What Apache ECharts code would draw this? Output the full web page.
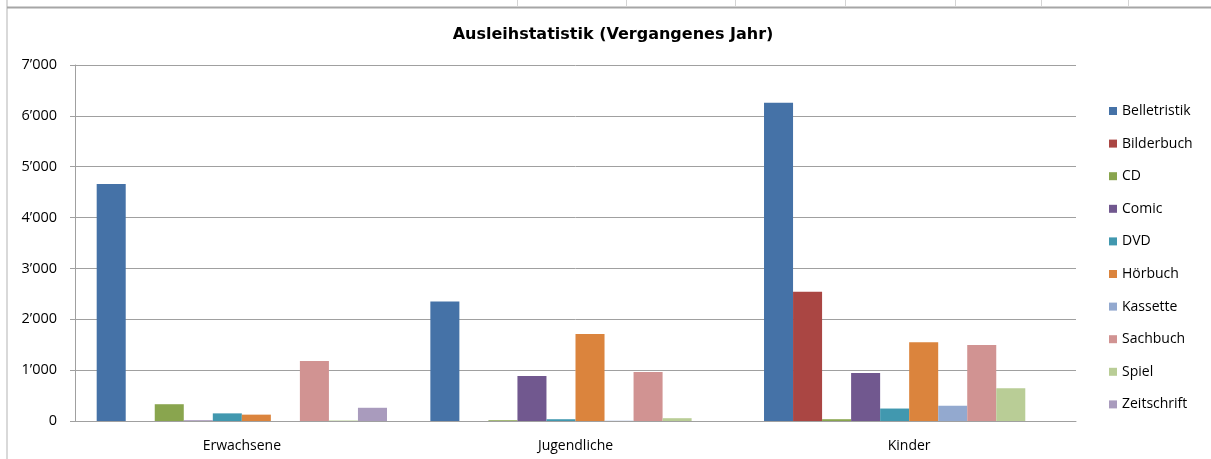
<!DOCTYPE html>
<html>
<head>
<meta charset="utf-8">
<script src="https://cdn.jsdelivr.net/npm/echarts@6/dist/echarts.min.js"></script>
<style>html,body{margin:0;padding:0;background:#fff}#c{width:1211px;height:459px}</style>
</head>
<body>
<div id="c"></div>
<script>
var categories = ['Erwachsene', 'Jugendliche', 'Kinder'];
var seriesNames = ['Belletristik','Bilderbuch','CD','Comic','DVD','Hörbuch','Kassette','Sachbuch','Spiel','Zeitschrift'];
var belletristik = [4660, 2350, 6260];
var bilderbuch   = [0, 0, 2540];
var cd           = [330, 15, 35];
var comic        = [10, 885, 945];
var dvd          = [150, 35, 245];
var hoerbuch     = [125, 1710, 1550];
var kassette     = [0, 5, 300];
var sachbuch     = [1180, 965, 1495];
var spiel        = [10, 55, 645];
var zeitschrift  = [260, 0, 0];
var yTicks = [0, 1000, 2000, 3000, 4000, 5000, 6000, 7000];
var colors = ['#4572A7','#AA4643','#89A54E','#71588F','#4198AF','#DB843D','#93A9CF','#D19392','#B9CD96','#A99BBD'];
var allData = [belletristik, bilderbuch, cd, comic, dvd, hoerbuch, kassette, sachbuch, spiel, zeitschrift];

var font = 'Open Sans';
var chart = echarts.init(document.getElementById('c'));
var series = seriesNames.map(function(n, i){
  return {
    name: n, type: 'bar', data: allData[i],
    barGap: '0%', barCategoryGap: '13%',
    itemStyle: {color: colors[i]}
  };
});
function fmt(v){
  var s = String(v);
  if (v >= 1000) s = s.slice(0, s.length-3) + '\u2019' + s.slice(s.length-3);
  return s;
}
var cellXs = [517, 626, 735, 845, 955, 1041, 1128];
var graphics = [
  {type:'line', shape:{x1:7,y1:0,x2:7,y2:459}, style:{stroke:'#d9d9d9', lineWidth:2}, silent:true},
  {type:'line', shape:{x1:7,y1:7.5,x2:1211,y2:7.5}, style:{stroke:'#a6a6a6', lineWidth:2}, silent:true}
];
cellXs.forEach(function(x){
  graphics.push({type:'line', shape:{x1:x+0.5,y1:0,x2:x+0.5,y2:6.5}, style:{stroke:'#d4d4d4', lineWidth:1}, silent:true});
});
chart.setOption({
  animation: false,
  color: colors,
  title: {
    text: 'Ausleihstatistik (Vergangenes Jahr)',
    left: 608, top: 22, textAlign: 'center',
    textStyle: {fontFamily: 'DejaVu Sans', fontWeight: 'bold', fontSize: 16, color: '#000'}
  },
  legend: {
    orient: 'vertical', left: 1104, top: 97,
    itemWidth: 8, itemHeight: 8, itemGap: 14.6,
    icon: 'rect',
    textStyle: {fontFamily: font, fontSize: 14, color: '#000', lineHeight: 18},
    data: seriesNames
  },
  grid: {left: 75, right: 135, top: 65, bottom: 38, containLabel: false},
  xAxis: {
    type: 'category', data: categories,
    axisLine: {lineStyle: {color: '#a0a0a0', width: 1}},
    axisTick: {length: 5, lineStyle: {color: '#a0a0a0'}},
    axisLabel: {fontFamily: font, fontSize: 14, color: '#000', margin: 18}
  },
  yAxis: {
    type: 'value', min: 0, max: 7000, interval: 1000,
    axisLine: {show: true, lineStyle: {color: '#a0a0a0'}},
    axisTick: {show: true, length: 5, lineStyle: {color: '#a0a0a0'}},
    splitLine: {lineStyle: {color: '#a0a0a0'}},
    axisLabel: {fontFamily: font, fontSize: 14.5, color: '#000', margin: 18, formatter: fmt}
  },
  series: series,
  graphic: graphics
});
</script>
</body>
</html>
